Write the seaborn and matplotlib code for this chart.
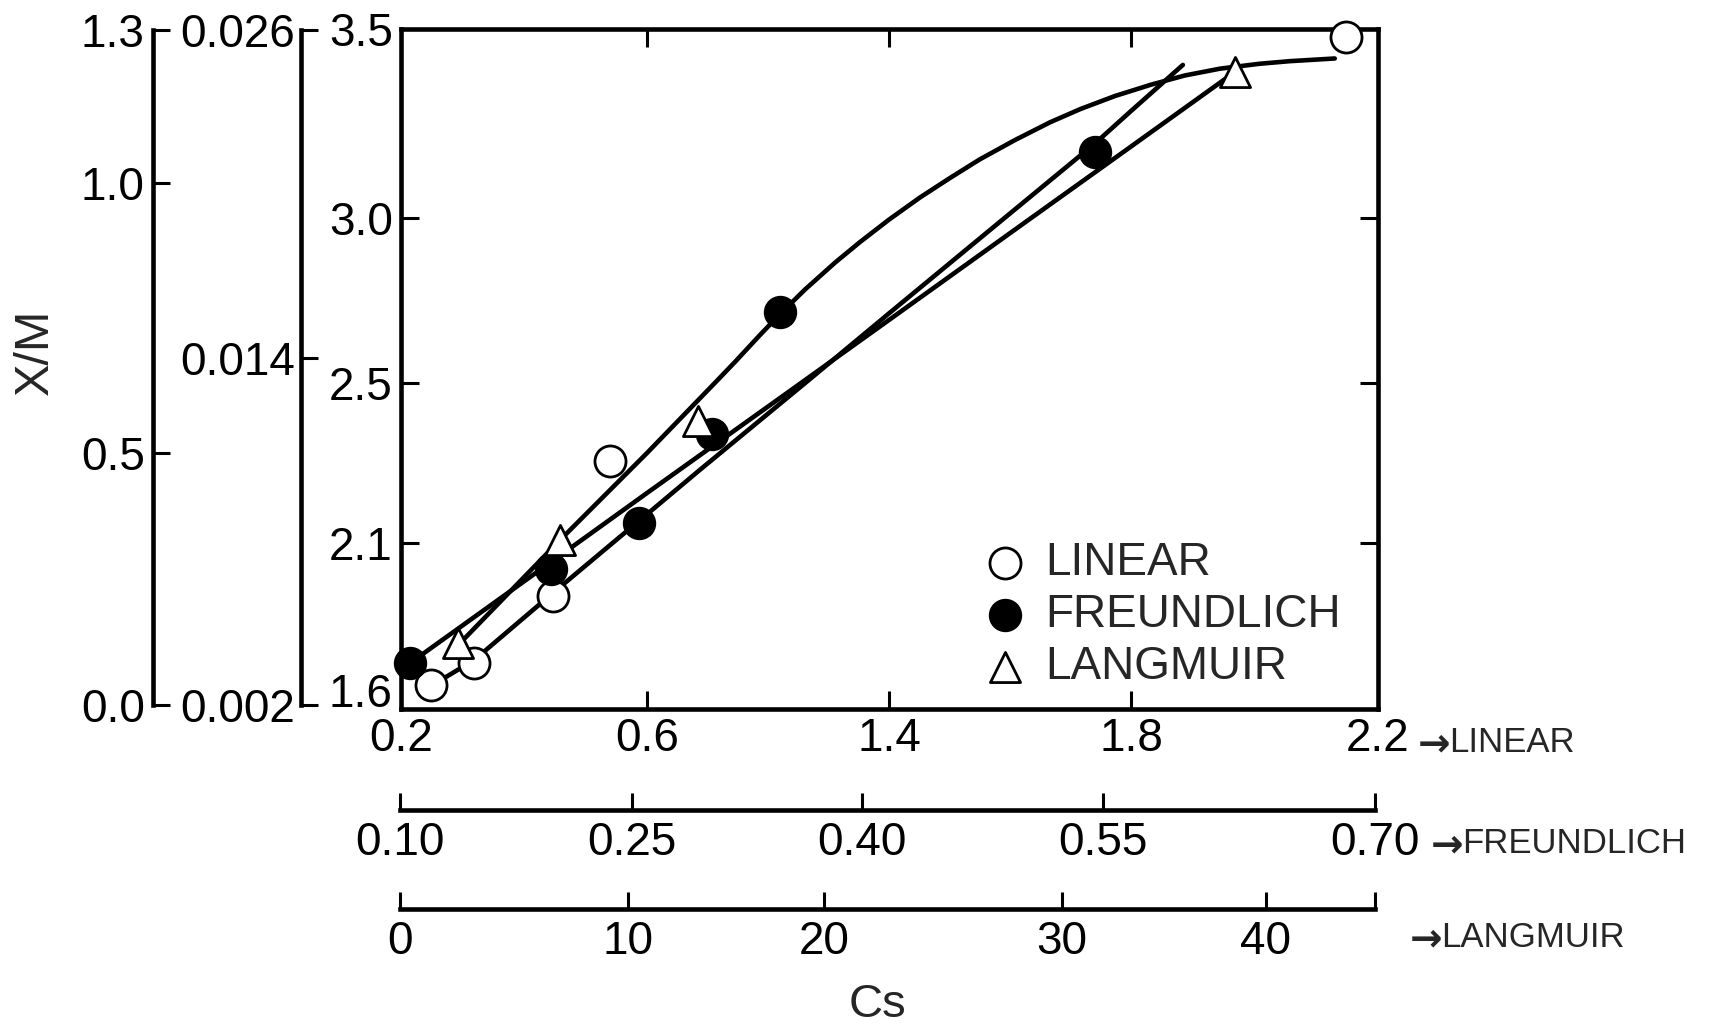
import numpy as np
import matplotlib
matplotlib.use("Agg")
import matplotlib.pyplot as plt
import seaborn as sns

# ---------------- data ----------------
# All series are plotted in the box's own units: Cs on the LINEAR scale (x)
# and X/M on the 1.6-3.5 scale (y).
linear_x = [0.249, 0.319, 0.447, 0.540, 2.148]
linear_y = [1.617, 1.692, 1.920, 2.305, 3.479]

freundlich_x = [0.215, 0.444, 0.587, 0.815, 1.040, 1.741]
freundlich_y = [1.692, 2.012, 2.150, 2.372, 2.715, 3.175]

langmuir_x = [0.293, 0.459, 0.769, 1.968]
langmuir_y = [1.760, 2.108, 2.405, 3.387]

# fitted isotherm lines
line_lower_x = [0.215, 0.487, 0.600, 1.109, 1.400, 1.635, 1.800, 1.968]
line_lower_y = [1.692, 2.100, 2.225, 2.500, 2.691, 3.000, 3.189, 3.386]

line_upper_x = [0.249, 0.319, 0.447, 0.544, 0.600, 0.775, 1.123, 1.370,
                1.400, 1.591, 1.741, 1.800, 1.884]
line_upper_y = [1.614, 1.702, 1.930, 2.100, 2.172, 2.283, 2.500, 2.688,
                2.711, 3.000, 3.198, 3.283, 3.405]

curve_x = [0.293, 0.459, 0.600, 0.824, 0.891, 0.974, 1.040, 1.122, 1.222,
           1.304, 1.400, 1.451, 1.501, 1.550, 1.608, 1.666, 1.716, 1.774,
           1.800, 1.831, 1.887, 1.944, 2.008, 2.058, 2.130]
curve_y = [1.753, 2.108, 2.325, 2.500, 2.564, 2.646, 2.709, 2.783, 2.865,
           2.927, 2.995, 3.054, 3.106, 3.155, 3.206, 3.253, 3.288, 3.323,
           3.336, 3.352, 3.377, 3.395, 3.408, 3.415, 3.422]

# axis tick values and labels
x_ticks = [0.2, 0.6, 1.4, 1.8, 2.2]
x_labels = ["0.2", "0.6", "1.4", "1.8", "2.2"]
y_ticks = [1.6, 2.1, 2.5, 3.0, 3.5]
y_labels = ["1.6", "2.1", "2.5", "3.0", "3.5"]
y_bottom = 1.535

freundlich_ticks = [0.10, 0.25, 0.40, 0.55, 0.70]
freundlich_labels = ["0.10", "0.25", "0.40", "0.55", "0.70"]
langmuir_ticks = [0, 10, 20, 30, 40]
langmuir_labels = ["0", "10", "20", "30", "40"]
langmuir_end = 45.3

xm_ticks = [0.0, 0.5, 1.0, 1.3]
xm_labels = ["0.0", "0.5", "1.0", "1.3"]
xm2_ticks = [0.002, 0.014, 0.026]
xm2_labels = ["0.002", "0.014", "0.026"]

scale_names = ["LINEAR", "FREUNDLICH", "LANGMUIR"]

# ---------------- hand-drawn (piecewise) scales ----------------
# fraction of the axis length at which each tick value sits
x_frac = [0.0, 0.2518, 0.4995, 0.7472, 1.0]
y_frac = [0.0, 0.0279, 0.2441, 0.4794, 0.7221, 1.0]
freundlich_frac = [0.0, 0.2379, 0.4738, 0.7210, 1.0]
langmuir_frac = [0.0, 0.2338, 0.4349, 0.6790, 0.8882, 1.0]
xm_frac = [0.0, 0.3733, 0.7733, 1.0]
xm2_frac = [0.0, 0.5141, 1.0]


def piecewise(values, fracs):
    v = np.asarray(values, float)
    f = np.asarray(fracs, float)
    return (lambda a: np.interp(a, v, f)), (lambda a: np.interp(a, f, v))


sns.set_style("ticks")
plt.rcParams["font.family"] = ["Liberation Sans", "DejaVu Sans"]
plt.rcParams["axes.edgecolor"] = "black"

W, H = 1731, 1028
fig = plt.figure(figsize=(W / 100, H / 100), dpi=100)


def fx(px):
    return px / W


def fy(py):
    return 1 - py / H


LW_SPINE = 3.3
LW_TICK = 2.2
FS = 33

# ---------------- main box ----------------
ax = fig.add_axes([fx(401), fy(709), fx(1378) - fx(401), fy(29) - fy(709)])
ax.set_xscale("function", functions=piecewise(x_ticks, x_frac))
ax.set_yscale("function", functions=piecewise([y_bottom] + y_ticks, y_frac))

for xs, ys in [(line_lower_x, line_lower_y),
               (line_upper_x, line_upper_y),
               (curve_x, curve_y)]:
    sns.lineplot(x=xs, y=ys, sort=False, estimator=None, color="black",
                 linewidth=3.3, solid_joinstyle="round",
                 solid_capstyle="round", ax=ax)

sns.scatterplot(x=linear_x, y=linear_y, marker="o", s=500, color="white",
                edgecolor="black", linewidth=2.0, zorder=4, clip_on=False,
                label="LINEAR", ax=ax)
sns.scatterplot(x=freundlich_x, y=freundlich_y, marker="o", s=530,
                color="black", edgecolor="black", linewidth=1.0, zorder=4,
                clip_on=False, label="FREUNDLICH", ax=ax)
sns.scatterplot(x=langmuir_x, y=langmuir_y, marker="^", s=470, color="white",
                edgecolor="black", linewidth=2.0, zorder=5, clip_on=False,
                label="LANGMUIR", ax=ax)

ax.set_xlim(x_ticks[0], x_ticks[-1])
ax.set_ylim(y_bottom, y_ticks[-1])
ax.set_xlabel("")
ax.set_ylabel("")
ax.set_xticks(x_ticks, labels=x_labels)
ax.set_yticks(y_ticks, labels=y_labels)
ax.minorticks_off()
ax.tick_params(which="major", direction="in", length=13, width=LW_TICK,
               top=True, right=True, labelsize=FS, colors="black")
ax.tick_params(axis="x", pad=6)
ax.tick_params(axis="y", pad=6)
for t in (ax.xaxis.get_major_ticks()[0], ax.xaxis.get_major_ticks()[-1],
          ax.yaxis.get_major_ticks()[0], ax.yaxis.get_major_ticks()[-1]):
    t.tick1line.set_visible(False)
    t.tick2line.set_visible(False)
for s in ax.spines.values():
    s.set_linewidth(LW_SPINE)
    s.set_color("black")

handles, labels = ax.get_legend_handles_labels()
ax.legend(handles, labels, loc="upper left",
          bbox_to_anchor=(fx(987), fy(541)), bbox_transform=fig.transFigure,
          frameon=False, fontsize=33, handlelength=0.78, handletextpad=0.5,
          labelspacing=0.17, borderpad=0, borderaxespad=0, scatterpoints=1)


# ---------------- extra Cs scales below the box ----------------
def bottom_scale(py, px_left, px_right, values, fracs, ticks, labels):
    a = fig.add_axes([fx(px_left), fy(py), fx(px_right) - fx(px_left), 0.0001])
    a.set_xscale("function", functions=piecewise(values, fracs))
    a.set_xlim(values[0], values[-1])
    for name in ("top", "left", "right"):
        a.spines[name].set_visible(False)
    a.spines["bottom"].set_linewidth(LW_SPINE)
    a.set_yticks([])
    a.set_xticks(ticks, labels=labels)
    a.minorticks_off()
    a.tick_params(axis="x", direction="in", length=12, width=LW_TICK,
                  labelsize=FS, pad=8, colors="black")
    a.patch.set_visible(False)
    return a


bottom_scale(810, 400, 1375, freundlich_ticks, freundlich_frac,
             freundlich_ticks, freundlich_labels)
bottom_scale(909, 400, 1375, langmuir_ticks + [langmuir_end], langmuir_frac,
             langmuir_ticks + [langmuir_end], langmuir_labels + [""])


# ---------------- extra X/M scales left of the box ----------------
def side_scale(px, py_top, py_bot, values, fracs, labels, pad):
    a = fig.add_axes([fx(px), fy(py_bot), 0.0001, fy(py_top) - fy(py_bot)])
    a.set_yscale("function", functions=piecewise(values, fracs))
    a.set_ylim(values[0], values[-1])
    for name in ("top", "bottom", "right"):
        a.spines[name].set_visible(False)
    a.spines["left"].set_linewidth(LW_SPINE)
    a.set_xticks([])
    a.set_yticks(values, labels=labels)
    a.minorticks_off()
    a.tick_params(axis="y", direction="in", length=12, width=LW_TICK,
                  labelsize=FS, pad=pad, colors="black")
    a.patch.set_visible(False)
    return a


side_scale(153, 30, 705, xm_ticks, xm_frac, xm_labels, 6)
side_scale(301, 30, 705, xm2_ticks, xm2_frac, xm2_labels, 4)

# ---------------- titles and scale names ----------------
fig.text(fx(35), fy(352), "X/M", rotation=90, ha="center", va="center",
         fontsize=35)
fig.text(fx(878), fy(1005), "Cs", ha="center", va="center", fontsize=34)

# (arrow x, name x, baseline y) for each scale name at the right
name_spots = [(1418, 1449, 752), (1431, 1462, 853), (1410, 1441, 947)]
for name, (xa, xn, yb) in zip(scale_names, name_spots):
    fig.text(fx(xa), fy(yb - 12), "\u2192", ha="left", va="center_baseline",
             fontsize=28, family=["DejaVu Sans"], fontweight="bold")
    fig.text(fx(xn), fy(yb), name, ha="left", va="baseline", fontsize=25)

fig.savefig("out.png", dpi=100)
